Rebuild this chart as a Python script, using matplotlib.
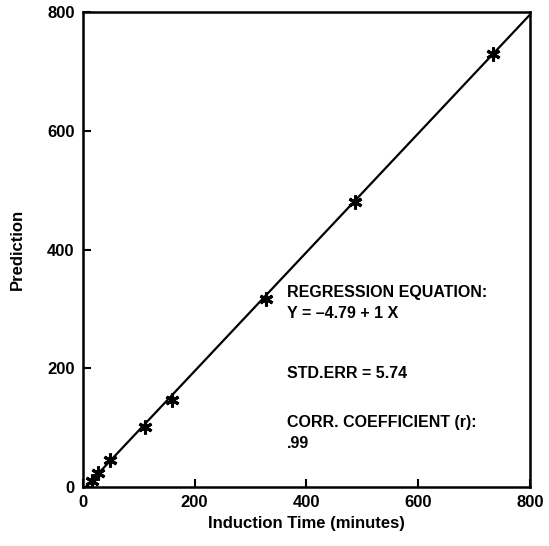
import matplotlib.pyplot as plt
from matplotlib import font_manager

# measured induction time vs model prediction (minutes)
induction = [16, 27, 48, 111, 159, 327, 488, 735]
prediction = [10, 23, 45, 101, 146, 316, 480, 730]

intercept = -4.79
slope = 1.0
ticks = [0, 200, 400, 600, 800]

# annotation lines and their vertical positions (data units)
notes = ["REGRESSION EQUATION:", "Y = \u20134.79 + 1 X", "STD.ERR = 5.74",
         "CORR. COEFFICIENT (r):", ".99"]
note_y = [328, 293, 192, 108, 74]

names = {f.name for f in font_manager.fontManager.ttflist}
fam = "Liberation Sans Narrow" if "Liberation Sans Narrow" in names else "Liberation Sans"
plt.rcParams['font.family'] = [fam, 'DejaVu Sans']
plt.rcParams['font.weight'] = 'bold'

fig = plt.figure(figsize=(5.49, 5.46), dpi=100)
ax = fig.add_axes([0.151, 0.108, 0.814, 0.870])

lx = [0, 800]
ly = [intercept + slope * v for v in lx]
ax.plot(lx, ly, color="black", lw=1.6)
ax.plot(induction, prediction, linestyle="none", marker=(6, 2, 0),
        markersize=10, markeredgewidth=2.2, color="black")

ax.set_xlim(0, 800)
ax.set_ylim(0, 800)
ax.set_xticks(ticks)
ax.set_yticks(ticks)
ax.tick_params(direction="in", length=6, width=1.5, labelsize=12, pad=6)
for lab in ax.get_xticklabels() + ax.get_yticklabels():
    lab.set_fontweight("bold")
for s in ax.spines.values():
    s.set_linewidth(1.8)

ax.set_xlabel("Induction Time (minutes)", fontsize=12, fontweight="bold", labelpad=4)
ax.set_ylabel("Prediction", fontsize=12, fontweight="bold", labelpad=16)

for t, yv in zip(notes, note_y):
    ax.text(365, yv, t, fontsize=11.5, fontweight="bold", va="center", ha="left")

fig.savefig("out.png", dpi=100)
